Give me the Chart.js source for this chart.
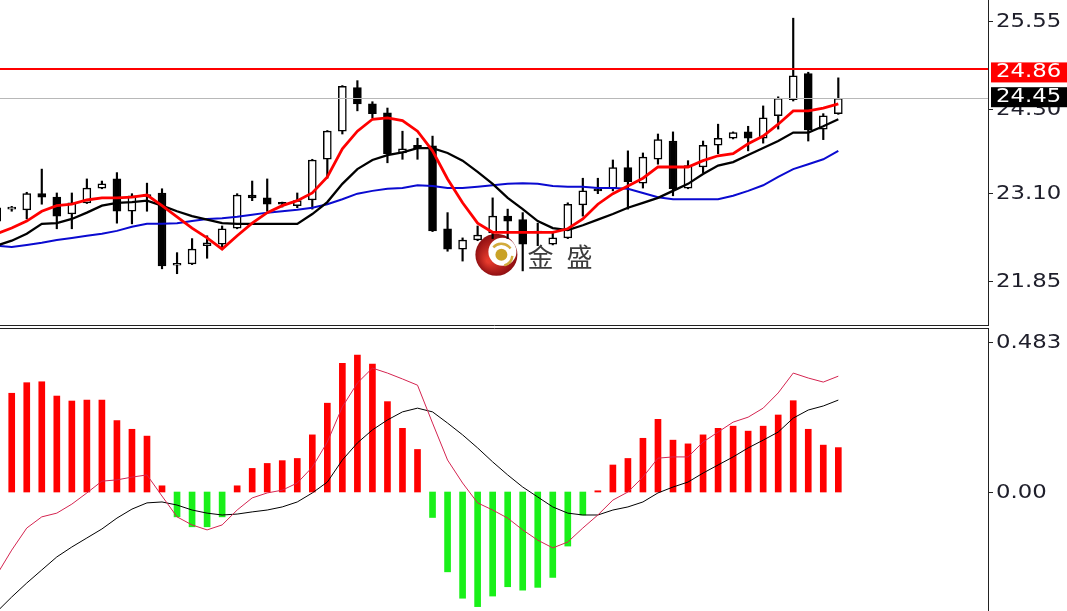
<!DOCTYPE html>
<html>
<head>
<meta charset="utf-8">
<script src="https://cdn.jsdelivr.net/npm/chart.js@4.4.0/dist/chart.umd.min.js"></script>
<style>
  html, body { margin: 0; padding: 0; background: #fff; }
  #wrap { position: relative; width: 1067px; height: 611px; overflow: hidden; }
  .pane { position: absolute; left: 0; width: 1067px; }
  #top { top: 0; height: 326px; }
  #bot { top: 327px; height: 284px; }
</style>
</head>
<body>
<div id="wrap">
  <div class="pane" id="top"><canvas id="price"></canvas></div>
  <div class="pane" id="bot"><canvas id="macd"></canvas></div>
</div>
<script>
// bar index of the first value in every array (the first bar is cut by the left edge)
const firstBar = -1;

const opens  = [22.70, 22.87, 22.86, 23.09, 23.04, 22.80, 22.96, 23.17, 23.30, 22.84, 23.05, 23.10, 22.07, 22.09, 22.35, 22.37, 22.60, 23.07, 23.03, 22.95, 22.92, 23.00, 23.58, 23.98, 24.60, 24.37, 24.24, 23.67, 23.78, 23.77, 22.59, 22.30, 22.43, 22.53, 22.77, 22.72, 22.53, 22.37, 22.46, 22.93, 23.16, 23.17, 23.46, 23.24, 23.58, 23.84, 23.17, 23.47, 23.78, 23.88, 23.97, 23.88, 24.20, 24.43, 24.80, 24.01, 24.23];
const highs  = [22.94, 22.91, 23.11, 23.44, 23.10, 23.10, 23.30, 23.27, 23.39, 23.09, 23.24, 23.16, 22.25, 22.45, 22.49, 22.63, 23.09, 23.27, 23.30, 22.97, 23.10, 23.58, 23.99, 24.63, 24.70, 24.40, 24.31, 23.98, 23.88, 23.91, 22.82, 22.46, 22.63, 23.03, 22.87, 22.82, 22.67, 22.53, 22.96, 23.31, 23.31, 23.57, 23.70, 23.67, 23.94, 23.97, 23.56, 23.84, 24.08, 23.97, 24.05, 24.34, 24.47, 25.59, 24.82, 24.23, 24.74];
const lows   = [22.64, 22.84, 22.73, 22.94, 22.59, 22.59, 22.95, 23.16, 22.67, 22.66, 22.84, 22.02, 21.95, 22.08, 22.17, 22.30, 22.59, 22.99, 22.84, 22.90, 22.89, 22.87, 23.31, 23.94, 24.27, 24.17, 23.53, 23.58, 23.58, 22.55, 22.27, 22.13, 22.42, 22.45, 22.45, 21.99, 22.35, 22.36, 22.45, 22.77, 23.09, 23.13, 22.87, 23.17, 23.51, 23.06, 23.16, 23.39, 23.66, 23.87, 23.70, 23.81, 24.01, 24.41, 23.84, 23.86, 24.22];
const closes = [22.89, 22.88, 23.09, 23.04, 22.77, 22.96, 23.17, 23.23, 22.84, 23.06, 23.07, 22.06, 22.09, 22.30, 22.39, 22.59, 23.07, 23.03, 22.94, 22.94, 22.99, 23.57, 23.98, 24.62, 24.37, 24.23, 23.66, 23.73, 23.73, 22.56, 22.30, 22.43, 22.50, 22.77, 22.70, 22.37, 22.54, 22.46, 22.94, 23.13, 23.13, 23.46, 23.26, 23.61, 23.86, 23.16, 23.49, 23.78, 23.88, 23.96, 23.88, 24.17, 24.45, 24.77, 24.00, 24.20, 24.45];

const maFast = [22.52, 22.60, 22.70, 22.84, 22.92, 22.94, 23.00, 23.03, 23.03, 23.04, 23.07, 22.92, 22.76, 22.60, 22.46, 22.30, 22.49, 22.67, 22.82, 22.92, 22.99, 23.10, 23.33, 23.73, 23.98, 24.15, 24.17, 24.13, 23.98, 23.70, 23.30, 22.96, 22.67, 22.54, 22.54, 22.54, 22.54, 22.54, 22.59, 22.73, 22.94, 23.09, 23.20, 23.31, 23.47, 23.47, 23.47, 23.56, 23.63, 23.66, 23.80, 23.91, 24.08, 24.27, 24.27, 24.31, 24.37];
const maMid  = [22.35, 22.42, 22.52, 22.66, 22.67, 22.73, 22.82, 22.92, 22.96, 22.97, 22.99, 22.92, 22.84, 22.77, 22.72, 22.67, 22.66, 22.66, 22.66, 22.66, 22.66, 22.80, 22.97, 23.23, 23.44, 23.57, 23.64, 23.68, 23.74, 23.74, 23.67, 23.56, 23.40, 23.23, 23.03, 22.87, 22.70, 22.60, 22.57, 22.64, 22.72, 22.80, 22.89, 22.96, 23.03, 23.13, 23.23, 23.37, 23.49, 23.54, 23.64, 23.74, 23.84, 23.96, 23.96, 24.05, 24.15];
const maSlow = [22.35, 22.33, 22.36, 22.39, 22.43, 22.46, 22.49, 22.52, 22.56, 22.62, 22.66, 22.66, 22.67, 22.70, 22.73, 22.74, 22.76, 22.79, 22.82, 22.84, 22.86, 22.89, 22.94, 23.01, 23.09, 23.13, 23.16, 23.17, 23.21, 23.20, 23.17, 23.17, 23.19, 23.21, 23.23, 23.24, 23.23, 23.20, 23.19, 23.19, 23.17, 23.17, 23.16, 23.10, 23.04, 23.01, 23.01, 23.01, 23.01, 23.06, 23.13, 23.21, 23.33, 23.44, 23.51, 23.58, 23.70];

const macdHist = [null, 0.318, 0.352, 0.355, 0.309, 0.293, 0.296, 0.296, 0.230, 0.202, 0.180, 0.020, -0.080, -0.112, -0.112, -0.080, 0.020, 0.076, 0.092, 0.101, 0.108, 0.184, 0.286, 0.414, 0.441, 0.412, 0.291, 0.205, 0.137, -0.082, -0.257, -0.342, -0.369, -0.335, -0.305, -0.316, -0.307, -0.275, -0.174, -0.074, 0.004, 0.087, 0.108, 0.173, 0.234, 0.167, 0.155, 0.184, 0.205, 0.212, 0.196, 0.212, 0.248, 0.294, 0.202, 0.151, 0.143];
const macdLine = [-0.267, -0.187, -0.116, -0.080, -0.068, -0.039, -0.003, 0.035, 0.039, 0.048, 0.055, -0.013, -0.080, -0.106, -0.122, -0.106, -0.058, -0.019, -0.003, 0.006, 0.029, 0.080, 0.161, 0.274, 0.351, 0.399, 0.383, 0.364, 0.344, 0.222, 0.103, 0.029, -0.035, -0.058, -0.084, -0.122, -0.155, -0.180, -0.161, -0.116, -0.074, -0.026, 0.000, 0.048, 0.109, 0.113, 0.113, 0.161, 0.193, 0.225, 0.241, 0.270, 0.319, 0.383, 0.367, 0.354, 0.373];
const signalLine = [-0.386, -0.338, -0.293, -0.251, -0.209, -0.177, -0.148, -0.119, -0.084, -0.055, -0.035, -0.032, -0.042, -0.058, -0.068, -0.074, -0.071, -0.064, -0.058, -0.048, -0.032, -0.003, 0.032, 0.103, 0.158, 0.200, 0.232, 0.258, 0.270, 0.258, 0.222, 0.184, 0.142, 0.097, 0.055, 0.016, -0.016, -0.048, -0.068, -0.074, -0.074, -0.058, -0.048, -0.032, -0.003, 0.016, 0.032, 0.061, 0.087, 0.113, 0.142, 0.167, 0.193, 0.238, 0.264, 0.277, 0.296];

const priceTicks = [25.55, 24.30, 23.10, 21.85];
const macdTicks = [0.483, 0];
const macdTickLabels = ["0.483", "0.00"];
const resistance = 24.86;
const lastPrice = 24.45;

// visible window
const xMin = -0.78, xMax = 64.96;
const AXIS_W = 79;

const barIndex = opens.map((_, k) => firstBar + k);
const series = (arr) => barIndex.map((x, k) => ({ x, y: arr[k] }));
const wickData = barIndex.map((x, k) => ({ x, y: [lows[k], highs[k]] }));
const bodyData = barIndex.map((x, k) => ({ x, y: [opens[k], closes[k]] }));
const bodyFill = barIndex.map((_, k) => (closes[k] >= opens[k] ? "#ffffff" : "#000000"));
const histData = series(macdHist);
const histColors = macdHist.map((v) => (v >= 0 ? "#ff0000" : "#19f019"));

function wideText(ctx, text, x, y, color) {
  ctx.save();
  ctx.translate(x, y);
  ctx.scale(1.2, 1);
  ctx.font = '19px "DejaVu Sans"';
  ctx.fillStyle = color;
  ctx.textBaseline = "middle";
  ctx.textAlign = "left";
  ctx.fillText(text, 0, 0);
  ctx.restore();
}

const pricePanel = {
  id: "pricePanel",
  beforeDatasetsDraw(chart) {
    const { ctx, scales } = chart;
    const cx = scales.x.getPixelForValue(32.25);
    const cy = scales.y.getPixelForValue(22.22);
    ctx.save();
    const g = ctx.createRadialGradient(cx - 8, cy + 6, 2, cx, cy, 22);
    g.addColorStop(0, "#e53a2c");
    g.addColorStop(1, "#8a0c10");
    ctx.fillStyle = g;
    ctx.beginPath();
    ctx.arc(cx, cy, 21, 0, Math.PI * 2);
    ctx.fill();
    ctx.fillStyle = "#ffffff";
    ctx.beginPath();
    ctx.arc(cx + 6, cy - 3, 14, 0, Math.PI * 2);
    ctx.fill();
    ctx.strokeStyle = "#d2ab3c";
    ctx.lineWidth = 2.5;
    ctx.beginPath();
    ctx.arc(cx + 5, cy, 11, -2.4, -0.6);
    ctx.stroke();
    ctx.beginPath();
    ctx.arc(cx + 5, cy, 11, 0.1, 1.3);
    ctx.stroke();
    ctx.fillStyle = "#c9a227";
    ctx.beginPath();
    ctx.arc(cx + 5, cy, 6, 0, Math.PI * 2);
    ctx.fill();
    ctx.font = '26px "Noto Sans CJK SC"';
    ctx.fillStyle = "#3c3c3c";
    ctx.textBaseline = "middle";
    ctx.fillText("金", cx + 31, cy + 2);
    ctx.fillText("盛", cx + 70, cy + 2);
    ctx.restore();
  },
  afterDatasetsDraw(chart) {
    const { ctx, chartArea: a, scales } = chart;
    ctx.save();
    const yr = scales.y.getPixelForValue(resistance);
    const yl = scales.y.getPixelForValue(lastPrice);
    ctx.strokeStyle = "#b8b8b8";
    ctx.lineWidth = 1;
    ctx.beginPath();
    ctx.moveTo(a.left, Math.round(yl) + 0.5);
    ctx.lineTo(a.right, Math.round(yl) + 0.5);
    ctx.stroke();
    ctx.strokeStyle = "#ff0000";
    ctx.lineWidth = 2;
    ctx.beginPath();
    ctx.moveTo(a.left, Math.round(yr));
    ctx.lineTo(a.right, Math.round(yr));
    ctx.stroke();
    ctx.restore();
  },
  afterDraw(chart) {
    const { ctx, chartArea: a, scales } = chart;
    ctx.save();
    ctx.strokeStyle = "#222";
    ctx.lineWidth = 1;
    ctx.beginPath();
    ctx.moveTo(a.right + 0.5, 0);
    ctx.lineTo(a.right + 0.5, a.bottom);
    ctx.moveTo(0, a.bottom - 0.5);
    ctx.lineTo(a.right + 1, a.bottom - 0.5);
    ctx.stroke();
    priceTicks.forEach((t) => {
      const y = Math.round(scales.y.getPixelForValue(t)) + 0.5;
      ctx.beginPath();
      ctx.moveTo(a.right + 1, y);
      ctx.lineTo(a.right + 5, y);
      ctx.stroke();
      wideText(ctx, t.toFixed(2), a.right + 8, y + 1, "#1e1e2a");
    });
    const yr = scales.y.getPixelForValue(resistance);
    ctx.fillStyle = "#ff0000";
    ctx.fillRect(a.right + 3, yr - 7, AXIS_W, 20);
    wideText(ctx, resistance.toFixed(2), a.right + 8, yr + 3, "#ffffff");
    const yl = scales.y.getPixelForValue(lastPrice);
    ctx.fillStyle = "#000000";
    ctx.fillRect(a.right + 3, yl - 11, AXIS_W, 20);
    wideText(ctx, lastPrice.toFixed(2), a.right + 8, yl - 1, "#ffffff");
    ctx.restore();
  },
};

const macdPanel = {
  id: "macdPanel",
  afterDraw(chart) {
    const { ctx, chartArea: a, scales } = chart;
    ctx.save();
    ctx.strokeStyle = "#222";
    ctx.lineWidth = 1;
    ctx.beginPath();
    ctx.moveTo(0, 1.5);
    ctx.lineTo(a.right + 1, 1.5);
    ctx.moveTo(a.right + 0.5, 1);
    ctx.lineTo(a.right + 0.5, a.bottom);
    ctx.stroke();
    macdTicks.forEach((t, k) => {
      const y = Math.round(scales.y.getPixelForValue(t)) + 0.5;
      ctx.beginPath();
      ctx.moveTo(a.right + 1, y);
      ctx.lineTo(a.right + 5, y);
      ctx.stroke();
      wideText(ctx, macdTickLabels[k], a.right + 8, y + 1, "#1e1e2a");
    });
    ctx.restore();
  },
};

const common = {
  responsive: true,
  maintainAspectRatio: false,
  animation: false,
  events: [],
  layout: { padding: 0 },
  plugins: { legend: { display: false }, tooltip: { enabled: false } },
};

const yAxis = (min, max) => ({
  position: "right",
  min,
  max,
  ticks: { display: false },
  grid: { display: false, drawTicks: false },
  border: { display: false },
  afterFit: (s) => { s.width = AXIS_W; },
});

const xAxis = { type: "linear", min: xMin, max: xMax, offset: false, display: false };

new Chart(document.getElementById("price"), {
  type: "bar",
  data: {
    datasets: [
      { type: "line", data: series(maFast), borderColor: "#ff0000", borderWidth: 2.8, pointRadius: 0, tension: 0, order: 1 },
      { type: "line", data: series(maMid), borderColor: "#000000", borderWidth: 2.3, pointRadius: 0, tension: 0, order: 2 },
      { type: "line", data: series(maSlow), borderColor: "#0a0ad0", borderWidth: 2, pointRadius: 0, tension: 0, order: 3 },
      { data: bodyData, backgroundColor: bodyFill, borderColor: "#000000", borderWidth: 1.5, borderSkipped: false, barThickness: 8, minBarLength: 2, grouped: false, order: 4 },
      { data: wickData, backgroundColor: "#000000", borderWidth: 0, barThickness: 1.5, grouped: false, order: 5 },
    ],
  },
  options: {
    ...common,
    scales: { x: xAxis, y: yAxis(21.205, 25.849) },
  },
  plugins: [pricePanel],
});

new Chart(document.getElementById("macd"), {
  type: "bar",
  data: {
    datasets: [
      { type: "line", data: series(macdLine), borderColor: "#d42450", borderWidth: 1, pointRadius: 0, tension: 0, order: 1 },
      { type: "line", data: series(signalLine), borderColor: "#000000", borderWidth: 1, pointRadius: 0, tension: 0, order: 2 },
      { data: histData, backgroundColor: histColors, borderWidth: 0, barThickness: 6, grouped: false, order: 3 },
    ],
  },
  options: {
    ...common,
    scales: { x: xAxis, y: yAxis(-0.3831, 0.5313) },
  },
  plugins: [macdPanel],
});
</script>
</body>
</html>
